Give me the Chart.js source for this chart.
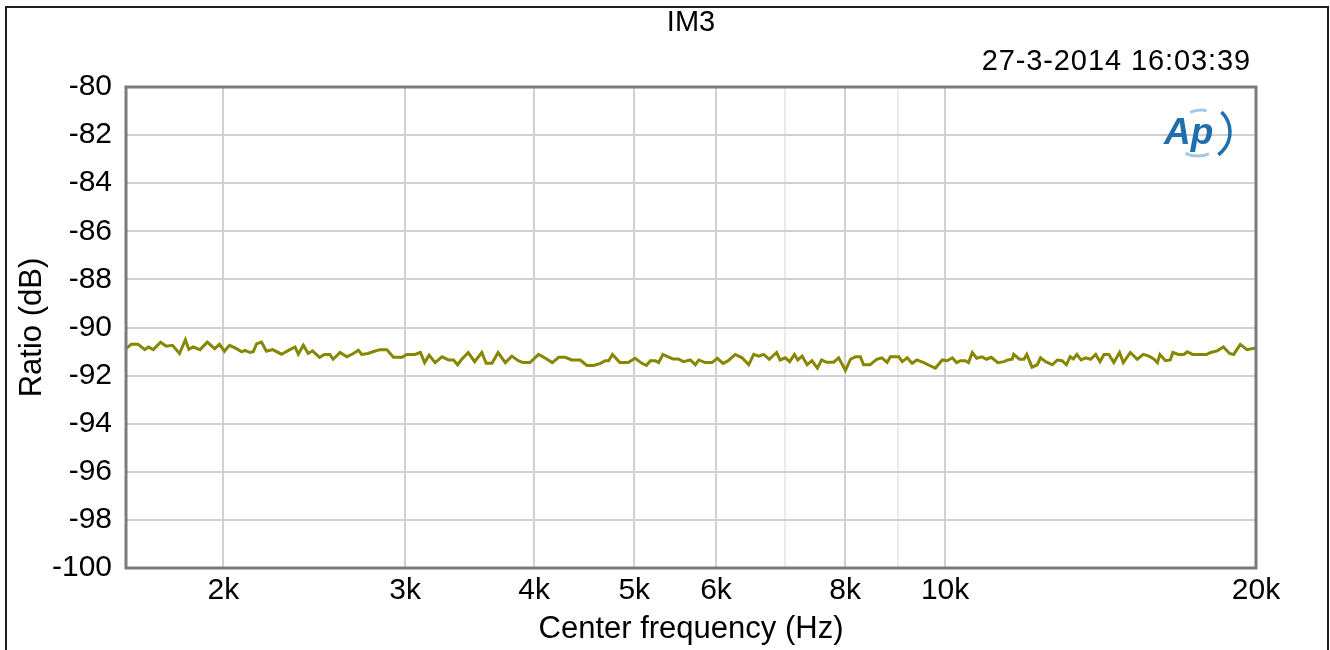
<!DOCTYPE html>
<html>
<head>
<meta charset="utf-8">
<title>IM3</title>
<script src="https://cdn.jsdelivr.net/npm/chart.js@4.4.1/dist/chart.umd.min.js"></script>
<style>
    html, body { margin: 0; padding: 0; background: #fff; }
    #wrap { width: 1330px; height: 650px; }
</style>
</head>
<body>
<div id="wrap"><canvas id="im3Chart" width="1330" height="650"></canvas></div>
<script>
// Sweep points: frequency (Hz) and IM3 ratio (dB)
const freqHz = [
    1610, 1629, 1654, 1679, 1692, 1711, 1739, 1761, 1786, 1814,
    1838, 1852, 1870, 1899, 1930, 1962, 1983, 2005, 2028, 2060,
    2084, 2099, 2123, 2138, 2154, 2178, 2202, 2233, 2277, 2320,
    2347, 2364, 2391, 2417, 2440, 2479, 2506, 2536, 2555, 2595,
    2634, 2673, 2703, 2723, 2762, 2792, 2836, 2880, 2923, 2979,
    3012, 3067, 3104, 3133, 3165, 3207, 3257, 3305, 3342, 3372,
    3404, 3453, 3503, 3559, 3594, 3641, 3691, 3751, 3806, 3861,
    3902, 3963, 4040, 4102, 4164, 4225, 4287, 4349, 4432, 4500,
    4568, 4637, 4688, 4722, 4763, 4842, 4933, 5010, 5087, 5137,
    5183, 5241, 5279, 5330, 5394, 5452, 5515, 5580,
    5666, 5730, 5773, 5859, 5946, 6018, 6095, 6166, 6263, 6359,
    6454, 6527, 6599, 6671, 6757, 6868, 6921, 7002, 7071, 7147,
    7200, 7270, 7351, 7431, 7521, 7592, 7678, 7797, 7887, 8007,
    8098, 8188, 8278, 8337, 8458, 8584, 8685, 8786, 8852, 9019,
    9088, 9189, 9289, 9390, 9523, 9672, 9785, 9936, 10048, 10161,
    10258, 10348,
    10460, 10535, 10625, 10731, 10857, 10965, 11083, 11249, 11400, 11501,
    11612, 11652, 11803, 11921, 11997, 12138, 12279, 12372, 12512, 12701,
    12842, 12983, 13104, 13216, 13309, 13414, 13540, 13675, 13832, 13989,
    14124, 14250, 14407, 14565, 14753, 14879, 15112, 15348, 15559, 15756,
    15932, 16052, 16144, 16344, 16520, 16615, 16830, 17027, 17160, 17357,
    17683, 17919, 18077, 18340, 18599, 18854, 19026, 19313, 19601, 20000
];
const ratioDb = [
    -90.88, -90.70, -90.70, -90.92, -90.81, -90.92, -90.61, -90.78, -90.74, -91.08,
    -90.51, -90.91, -90.81, -90.92, -90.61, -90.88, -90.70, -90.99, -90.74, -90.88,
    -91.01, -90.95, -91.04, -91.01, -90.68, -90.61, -90.99, -90.92, -91.11, -90.92,
    -90.81, -91.11, -90.74, -91.08, -90.97, -91.24, -91.12, -91.12, -91.32, -91.04,
    -91.22, -91.08, -90.95, -91.12, -91.08, -91.01, -90.92, -90.92, -91.24, -91.24,
    -91.12, -91.12, -91.04, -91.46, -91.15, -91.46, -91.22, -91.35, -91.35, -91.55,
    -91.32, -91.04, -91.42, -91.04, -91.49, -91.49, -91.04, -91.46, -91.19, -91.38,
    -91.46, -91.46, -91.12, -91.28, -91.46, -91.24, -91.24, -91.35, -91.35, -91.58,
    -91.58, -91.49, -91.38, -91.38, -91.12, -91.46, -91.46, -91.28, -91.49, -91.58,
    -91.38, -91.38, -91.46, -91.12, -91.22, -91.31, -91.31, -91.42,
    -91.35, -91.55, -91.35, -91.46, -91.46, -91.28, -91.49, -91.38, -91.12, -91.26,
    -91.55, -91.12, -91.19, -91.12, -91.32, -91.04, -91.35, -91.26, -91.42, -91.12,
    -91.35, -91.19, -91.55, -91.38, -91.69, -91.35, -91.45, -91.45, -91.26, -91.78,
    -91.32, -91.22, -91.22, -91.55, -91.55, -91.32, -91.26, -91.45, -91.22, -91.22,
    -91.42, -91.26, -91.49, -91.35, -91.45, -91.59, -91.69, -91.35, -91.38, -91.26,
    -91.46, -91.38,
    -91.38, -91.46, -91.04, -91.28, -91.22, -91.32, -91.24, -91.46, -91.42, -91.35,
    -91.32, -91.12, -91.32, -91.32, -91.12, -91.65, -91.55, -91.26, -91.42, -91.55,
    -91.35, -91.38, -91.55, -91.22, -91.31, -91.12, -91.35, -91.26, -91.32, -91.12,
    -91.42, -91.12, -91.12, -91.46, -91.04, -91.46, -91.04, -91.32, -91.12, -91.19,
    -91.32, -91.46, -91.12, -91.38, -91.35, -91.04, -91.12, -91.12, -91.01, -91.12,
    -91.12, -91.12, -91.04, -90.97, -90.81, -91.08, -91.12, -90.70, -90.92, -90.85
];

// x axis ticks (7k and 9k only get a faint grid line, no label)
const xTickValues = [2000, 3000, 4000, 5000, 6000, 7000, 8000, 9000, 10000, 20000];
const xTickLabels = ['2k', '3k', '4k', '5k', '6k', '', '8k', '', '10k', '20k'];
const xMin = 1610;
const xMax = 20000;
const yMin = -100;
const yMax = -80;
const yStep = 2;

const chartTitle = 'IM3';
const timeStamp = '27-3-2014 16:03:39';
const xAxisTitle = 'Center frequency (Hz)';
const yAxisTitle = 'Ratio (dB)';

const fontFamily = '"Liberation Sans", Arial, Helvetica, sans-serif';

// Outer frame, title, time stamp, plot border and the AP logo
const decorPlugin = {
    id: 'decor',
    beforeDraw(chart) {
        const ctx = chart.ctx;
        const area = chart.chartArea;
        ctx.save();
        ctx.fillStyle = '#ffffff';
        ctx.fillRect(0, 0, chart.width, chart.height);
        ctx.strokeStyle = '#1e1e1e';
        ctx.lineWidth = 2;
        ctx.strokeRect(6, 7, 1322, 700);

        ctx.fillStyle = '#000000';
        ctx.font = '29px ' + fontFamily;
        ctx.textBaseline = 'middle';
        ctx.textAlign = 'center';
        ctx.fillText(chartTitle, (area.left + area.right) / 2, 23);
        ctx.textAlign = 'right';
        ctx.letterSpacing = '0.9px';
        ctx.fillText(timeStamp, area.right - 5, 62);
        ctx.letterSpacing = '0px';
        ctx.restore();
    },
    afterDraw(chart) {
        const ctx = chart.ctx;
        const {left, top, right, bottom} = chart.chartArea;
        ctx.save();
        ctx.strokeStyle = '#7b7b7b';
        ctx.lineWidth = 3;
        ctx.strokeRect(left, top, right - left, bottom - top);

        // logo in the top right corner
        ctx.fillStyle = '#1f6fae';
        ctx.font = 'italic bold 37px ' + fontFamily;
        ctx.textAlign = 'left';
        ctx.textBaseline = 'alphabetic';
        ctx.fillText('Ap', 1164, 144);
        ctx.strokeStyle = '#1f6fae';
        ctx.lineWidth = 3.5;
        ctx.beginPath();
        ctx.arc(1202, 132, 28, -0.8, 0.95);
        ctx.stroke();
        ctx.strokeStyle = '#a3c8e4';
        ctx.lineWidth = 3;
        ctx.beginPath();
        ctx.arc(1198, 126, 30, 1.2, 2.0);
        ctx.stroke();
        ctx.beginPath();
        ctx.arc(1201, 136, 26, -2.0, -1.35);
        ctx.stroke();
        ctx.restore();
    }
};

function xLabelFor(value) {
    const i = xTickValues.indexOf(value);
    return i >= 0 ? xTickLabels[i] : '';
}

const ctx = document.getElementById('im3Chart').getContext('2d');
new Chart(ctx, {
    type: 'line',
    data: {
        datasets: [{
            label: 'IM3',
            data: freqHz.map((f, i) => ({ x: f, y: ratioDb[i] })),
            borderColor: '#868600',
            borderWidth: 3,
            pointRadius: 0,
            tension: 0,
            fill: false
        }]
    },
    options: {
        responsive: false,
        animation: false,
        layout: { padding: { top: 87, right: 74, left: 0, bottom: 0 } },
        plugins: {
            legend: { display: false },
            tooltip: { enabled: false },
            title: { display: false }
        },
        scales: {
            x: {
                type: 'logarithmic',
                min: xMin,
                max: xMax,
                afterBuildTicks: scale => {
                    scale.ticks = xTickValues.map(v => ({ value: v }));
                },
                afterFit: scale => { scale.height = 82; },
                border: { display: false },
                grid: {
                    drawTicks: false,
                    lineWidth: 2,
                    color: c => (c.tick && xLabelFor(c.tick.value) === '') ? '#ebebeb' : '#d0d0d0'
                },
                ticks: {
                    autoSkip: false,
                    maxRotation: 0,
                    padding: 5,
                    color: '#000000',
                    font: { family: fontFamily, size: 30 },
                    callback: value => xLabelFor(value)
                },
                title: {
                    display: true,
                    text: xAxisTitle,
                    color: '#000000',
                    font: { family: fontFamily, size: 31 },
                    padding: { top: 0, bottom: 2 }
                }
            },
            y: {
                min: yMin,
                max: yMax,
                afterFit: scale => { scale.width = 126; },
                border: { display: false },
                grid: {
                    drawTicks: false,
                    lineWidth: 2,
                    color: '#d0d0d0'
                },
                ticks: {
                    stepSize: yStep,
                    padding: 14,
                    color: '#000000',
                    font: { family: fontFamily, size: 30 },
                    callback: value => String(value)
                },
                title: {
                    display: true,
                    text: yAxisTitle,
                    color: '#000000',
                    font: { family: fontFamily, size: 31 },
                    padding: { top: 14, bottom: 0 }
                }
            }
        }
    },
    plugins: [decorPlugin]
});
</script>
</body>
</html>
